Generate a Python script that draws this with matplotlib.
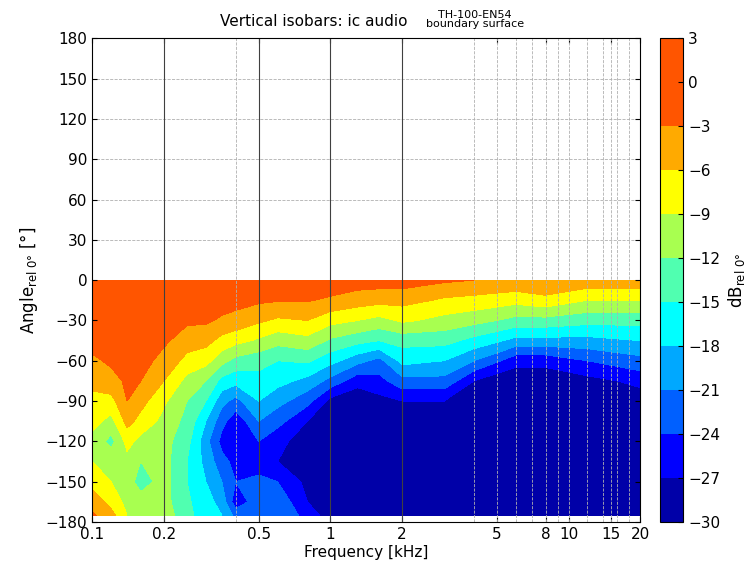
import numpy as np
import matplotlib.pyplot as plt
from matplotlib.colors import ListedColormap, BoundaryNorm

# frequency samples (kHz) and angles (deg)
freqs = [0.1, 0.12, 0.14, 0.16, 0.2, 0.25, 0.3, 0.35, 0.4, 0.5, 0.6, 0.8,
         1.0, 1.3, 1.6, 2.0, 3.0, 4.0, 6.0, 8.0, 12.0, 20.0]
angles = [0, -15, -30, -45, -60, -75, -90, -105, -120, -135, -150, -165, -175]

# level in dB rel 0 deg, one row per frequency, one column per angle
db = [
    [-1, -1, -1.5, -2, -3.5, -5, -7, -8, -10, -9, -7, -4.5, -2.5],
    [-1, -1, -1.5, -2, -2.5, -4, -7, -10, -13, -10, -9, -7, -5],
    [-1, -1, -1, -1.5, -2, -2.5, -3, -5, -8, -10, -11, -10, -9],
    [-1, -1, -1, -1.5, -2, -3, -5, -7, -10, -12, -13, -11, -10],
    [-1, -1, -1.5, -2.5, -4, -6, -8.5, -10, -11, -11, -11, -11, -10.5],
    [-1, -1.5, -2.5, -4.5, -7, -10, -12, -13, -14, -15, -15, -14.5, -14],
    [-1, -1.5, -2.5, -5, -8, -12, -15, -18, -20, -19, -18, -17, -17],
    [-1, -1.5, -3.5, -7, -11, -16, -20, -23, -25, -23, -21, -19, -18],
    [-1, -2, -4, -8, -13, -17, -22, -26, -27, -25, -24, -26, -22],
    [-1, -2.5, -5.5, -9.5, -14, -16, -18, -21, -24, -26, -23, -22, -22],
    [-1, -2.8, -6.5, -11, -15, -17, -20, -23, -26, -27, -24, -22, -22],
    [-1, -2.8, -6, -10, -14.5, -19, -23, -27, -29, -29, -28, -27, -25],
    [-1, -3.5, -8, -12.5, -17, -22, -28, -29, -29, -29, -29, -29, -29],
    [-1.5, -4.5, -9, -14, -20, -26, -29, -29, -29, -29, -29, -29, -29],
    [-1.5, -5, -10, -15, -22, -25, -28, -29, -29, -29, -29, -29, -29],
    [-1.5, -5, -8.5, -14, -17, -22, -27, -29, -29, -29, -29, -29, -29],
    [-2.5, -6.5, -10, -14, -18, -22, -27, -29, -29, -29, -29, -29, -29],
    [-3, -7, -11, -16, -21, -27, -29, -29, -29, -29, -29, -29, -29],
    [-3.5, -8, -13, -19, -26, -29, -29, -29, -29, -29, -29, -29, -29],
    [-3, -7, -13, -19, -26, -29, -29, -29, -29, -29, -29, -29, -29],
    [-4, -9, -14, -19, -24, -28, -29, -29, -29, -29, -29, -29, -29],
    [-4, -9, -14, -18, -22, -26, -29, -29, -29, -29, -29, -29, -29],
]

levels = np.arange(-30, 4, 3)
colors = ["#0000a8", "#0000ff", "#0060ff", "#00a8ff", "#00ffff", "#50ffb0",
          "#a8ff50", "#ffff00", "#ffaa00", "#ff5500", "#ff5500"]
cmap = ListedColormap(colors)
norm = BoundaryNorm(levels, cmap.N)

fig = plt.figure(figsize=(7.56, 5.8), dpi=100)
ax = fig.add_axes([0.122, 0.1, 0.725, 0.834])
cax = fig.add_axes([0.873, 0.1, 0.031, 0.834])

F, A = np.meshgrid(freqs, angles, indexing="ij")
cs = ax.contourf(F, A, np.array(db), levels=levels, cmap=cmap, norm=norm)

ax.set_xscale("log")
ax.set_xlim(0.1, 20)
ax.set_ylim(-180, 180)
xt = [0.1, 0.2, 0.5, 1, 2, 5, 8, 10, 15, 20]
ax.set_xticks(xt)
ax.set_xticklabels(["0.1", "0.2", "0.5", "1", "2", "5", "8", "10", "15", "20"])
ax.minorticks_off()
ax.set_yticks(np.arange(-180, 181, 30))
ax.tick_params(direction="in", top=True, right=True, labelsize=11)

for f in [0.2, 0.5, 1, 2]:
    ax.axvline(f, color="#404040", lw=0.8)
for f in [0.4, 4, 5, 6, 7, 8, 9, 10, 12, 14, 15, 16, 18]:
    ax.axvline(f, color="#b0b0b0", lw=0.6, ls="--")
for a in np.arange(-150, 180, 30):
    ax.axhline(a, color="#b0b0b0", lw=0.6, ls="--", zorder=0.5)

ax.set_xlabel("Frequency [kHz]", fontsize=11, labelpad=2)
ax.set_ylabel(r"Angle$_{\mathrm{rel\ 0°}}$ [°]", fontsize=12)
fig.text(0.415, 0.955, "Vertical isobars: ic audio", fontsize=11, ha="center")
fig.text(0.628, 0.953, "TH-100-EN54\nboundary surface", fontsize=8,
         ha="center", linespacing=0.95)

cb = fig.colorbar(cs, cax=cax, ticks=levels)
cb.ax.tick_params(labelsize=11, direction="in")
cb.set_label(r"dB$_{\mathrm{rel\ 0°}}$", fontsize=12)

fig.savefig("out.png", dpi=100)
